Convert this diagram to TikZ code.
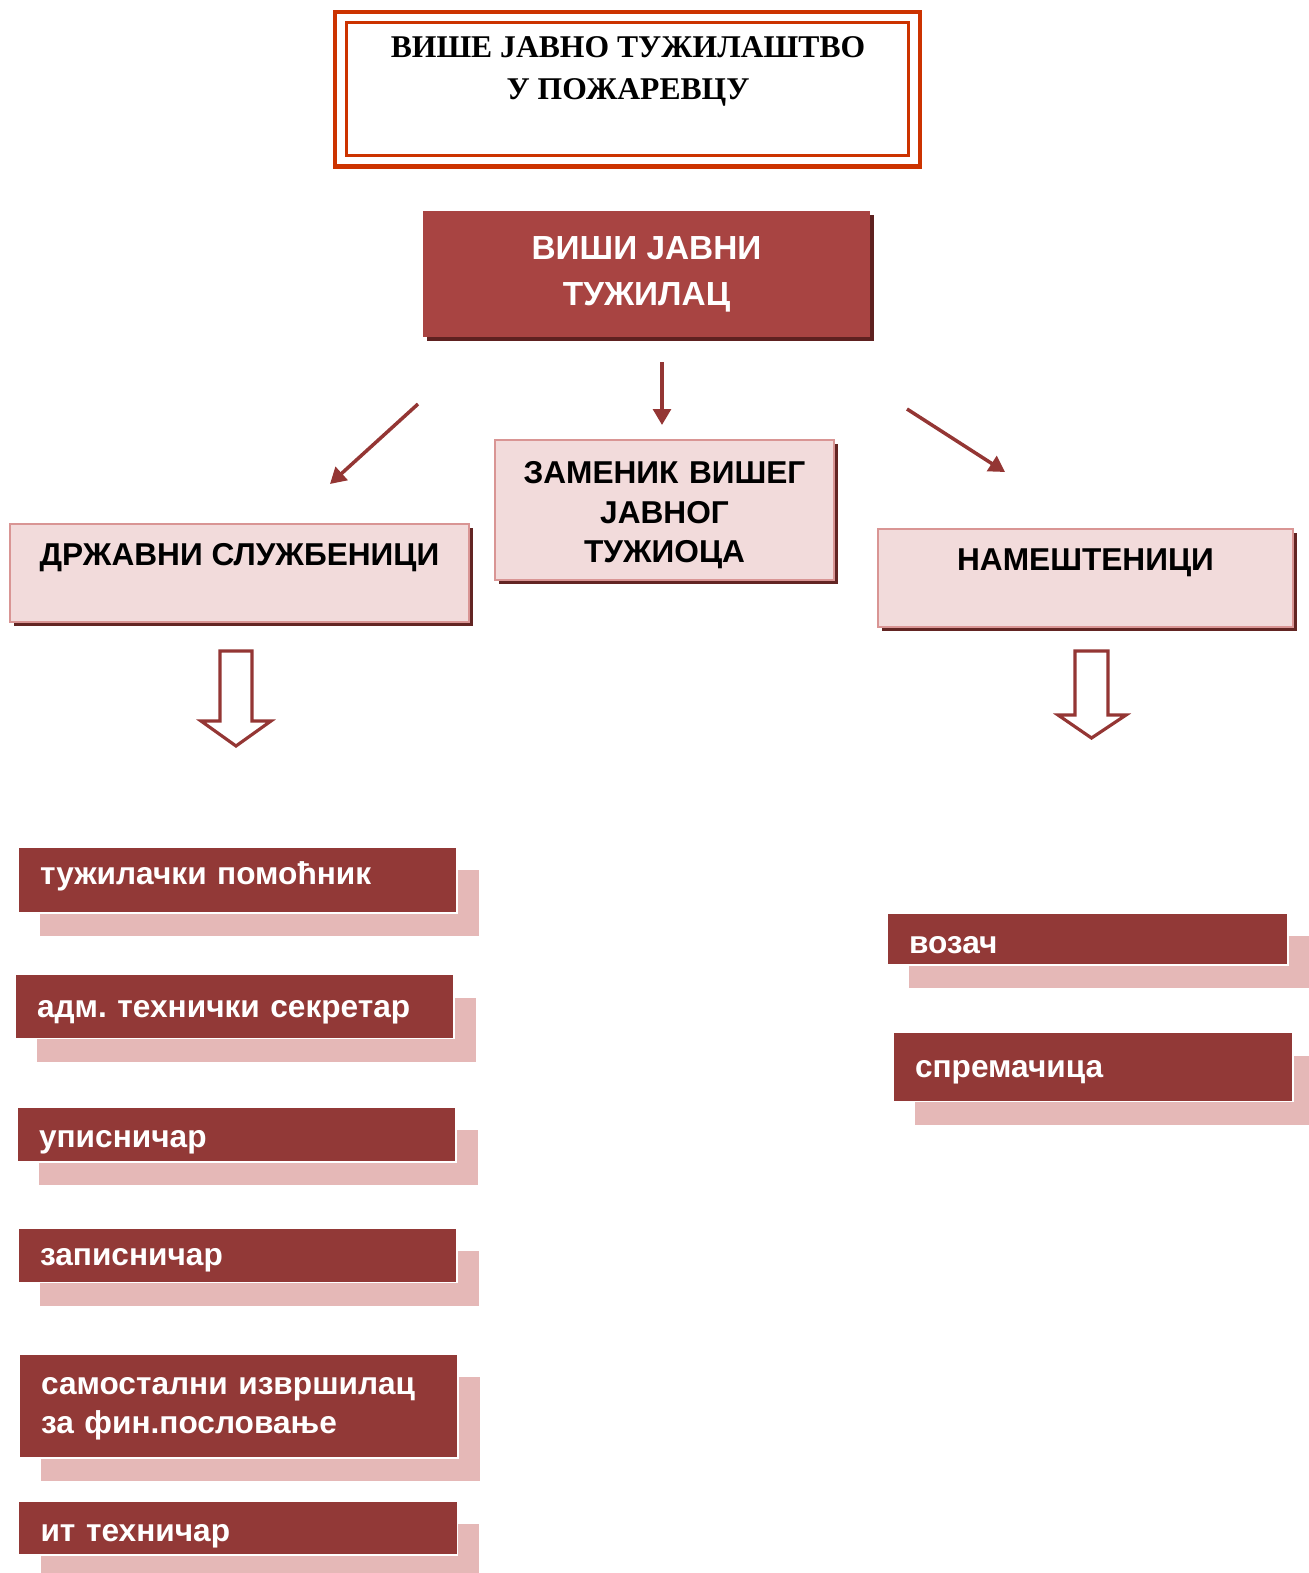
\documentclass[tikz,border=0pt]{standalone}
\usepackage{fontspec}
\setmainfont{Liberation Sans}
\newfontfamily\officefont{Liberation Serif}
\frenchspacing
\usetikzlibrary{arrows.meta,positioning}
\definecolor{framered}{RGB}{204,51,0}
\definecolor{chiefred}{RGB}{168,68,66}
\definecolor{chiefshadow}{RGB}{94,33,32}
\definecolor{gradepink}{RGB}{242,219,219}
\definecolor{gradeedge}{RGB}{217,149,148}
\definecolor{gradeshadow}{RGB}{99,37,35}
\definecolor{linkred}{RGB}{148,54,52}
\definecolor{postred}{RGB}{146,57,55}
\definecolor{postshadow}{RGB}{229,184,183}
\tikzset{
  office/.style={rectangle,draw=framered,line width=1.7pt,minimum width=11.26cm,minimum height=2.68cm,inner sep=0pt},
  officename/.style={align=center,font=\officefont\bfseries\fontsize{18}{24}\selectfont},
  chief/.style={rectangle,fill=chiefred,text=white,align=center,inner sep=0pt,
    minimum width=8.94cm,minimum height=2.52cm,font=\bfseries\fontsize{19}{26}\selectfont,
    preaction={fill=chiefshadow,transform canvas={shift={(0.08cm,-0.08cm)}}}},
  grade/.style={rectangle,fill=gradepink,draw=gradeedge,line width=1.5pt,align=center,inner sep=0pt,
    font=\bfseries\fontsize{18}{22.7}\selectfont,
    preaction={fill=gradeshadow,transform canvas={shift={(0.08cm,-0.08cm)}}}},
  post/.style={rectangle,fill=postred,draw=white,line width=1pt,text=white,align=left,
    text width=7.9cm,inner xsep=0.44cm,inner ysep=0pt,minimum width=8.78cm,
    text height=14pt,text depth=2pt,
    font=\bfseries\fontsize{18}{22.7}\selectfont,
    preaction={fill=postshadow,transform canvas={shift={(0.44cm,-0.46cm)}}}},
  link/.style={draw=linkred,line width=2pt,-{Triangle[length=9pt,width=10pt]}},
  hollow/.style={draw=linkred,line width=1.8pt,fill=white,line join=miter}
}
\begin{document}
\begin{tikzpicture}[x=0.02cm,y=-0.02cm]
\useasboundingbox (0,0) rectangle (1309,1573);

% naslov
\node[office] (office) at (627.5,89) {};
\draw[framered,line width=2.3pt] ([shift={(-10,-9)}]office.north west) rectangle ([shift={(10,9)}]office.south east);
\node[officename] (officename) at (628,71) {ВИШЕ ЈАВНО ТУЖИЛАШТВО\\У ПОЖАРЕВЦУ};

% rukovodilac
\node[chief] (chief) at (646.5,274) {ВИШИ ЈАВНИ\\ТУЖИЛАЦ};

\node[grade,minimum width=9.18cm,minimum height=1.96cm,text height=13pt,text depth=22pt] (civil) at (239.5,573) {ДРЖАВНИ СЛУЖБЕНИЦИ};
\node[grade,minimum width=6.78cm,minimum height=2.8cm,text width=6.6cm,text height=13pt,text depth=43.6pt] (deputy) at (664.5,510) {ЗАМЕНИК ВИШЕГ\\ЈАВНОГ\\ТУЖИОЦА};
\node[grade,minimum width=8.3cm,minimum height=1.96cm,text height=13pt,text depth=22pt] (staff) at (1085.5,578) {НАМЕШТЕНИЦИ};

\coordinate (chief left) at (418,404);
\coordinate (civil in) at (330,484);
\coordinate (chief mid) at (662,362);
\coordinate (deputy in) at (662,425);
\coordinate (chief right) at (907,409);
\coordinate (staff in) at (1005,472);
\draw[link] (chief left) -- (civil in);
\draw[link] (chief mid) -- (deputy in);
\draw[link] (chief right) -- (staff in);

% siroke strelice
\draw[hollow] (220,651) -- (252,651) -- (252,721) -- (271,721) -- (236,746) -- (201,721) -- (220,721) -- cycle;
\draw[hollow] (1075,651) -- (1108,651) -- (1108,715) -- (1126,715) -- (1091.5,738) -- (1058,715) -- (1075,715) -- cycle;

% radna mesta
\node[post,minimum height=1.32cm,text height=13pt,text depth=8pt] (assistant) at (237.5,880) {тужилачки помоћник};
\node[post,minimum height=1.28cm] (secretary) at (234.5,1006.5) {адм. технички секретар};
\node[post,minimum height=1.1cm,text height=15pt,text depth=0pt] (registrar) at (236.5,1134.5) {уписничар};
\node[post,minimum height=1.09cm] (recorder) at (237.5,1255.3) {записничар};
\node[post,minimum height=2.08cm,text height=13pt,text depth=26.6pt] (finance) at (238.5,1406) {самостални извршилац\\за фин.пословање};
\node[post,minimum height=1.09cm,text height=15pt,text depth=0pt] (ittech) at (238,1528) {ит техничар};
\node[post,minimum width=8.02cm,text width=7.14cm,minimum height=1.05cm,text height=17pt,text depth=0pt] (driver) at (1087.5,939) {возач};
\node[post,minimum width=8cm,text width=7.12cm,minimum height=1.38cm] (cleaner) at (1093,1067) {спремачица};
\end{tikzpicture}
\end{document}
